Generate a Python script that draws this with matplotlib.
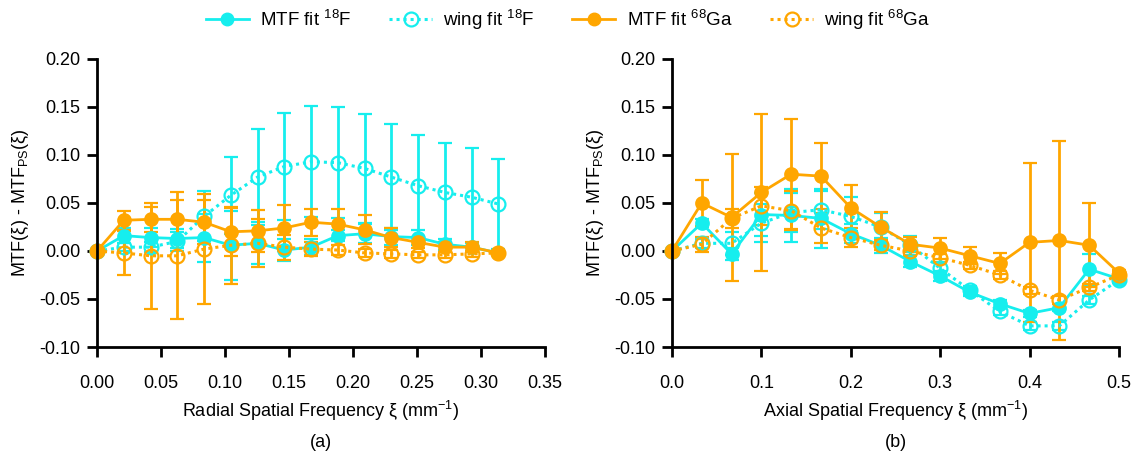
import matplotlib
matplotlib.use('Agg')
import matplotlib.pyplot as plt
from matplotlib.lines import Line2D

plt.rcParams['font.family'] = ['Liberation Sans', 'DejaVu Sans']
plt.rcParams['mathtext.fontset'] = 'custom'
plt.rcParams['mathtext.rm'] = 'Liberation Sans'
plt.rcParams['mathtext.default'] = 'regular'

CYAN = '#16eeee'
ORANGE = '#ffa600'

# radial (a)
x_rad = [0, 0.0209, 0.0418, 0.0627, 0.0836, 0.1045, 0.1254, 0.1463, 0.1672, 0.1881,
         0.209, 0.2299, 0.2508, 0.2717, 0.2926, 0.3135]
mtf_f_rad = [0, 0.016, 0.014, 0.013, 0.014, 0.006, 0.008, 0.001, 0.004, 0.016, 0.018, 0.015, 0.014, 0.007, 0.004, -0.002]
mtf_f_rad_err = [0, 0.008, 0.010, 0.010, 0.025, 0.036, 0.022, 0.011, 0.008, 0.006, 0.010, 0.009, 0.008, 0.006, 0.004, 0.002]
wing_f_rad = [0, 0.004, 0.004, 0.010, 0.036, 0.058, 0.077, 0.088, 0.093, 0.092, 0.086, 0.077, 0.068, 0.061, 0.056, 0.049]
wing_f_rad_err = [0, 0.004, 0.005, 0.010, 0.026, 0.040, 0.050, 0.056, 0.058, 0.058, 0.057, 0.055, 0.053, 0.052, 0.051, 0.047]
mtf_ga_rad = [0, 0.032, 0.033, 0.033, 0.030, 0.020, 0.021, 0.024, 0.030, 0.028, 0.022, 0.014, 0.009, 0.004, 0.004, -0.002]
mtf_ga_rad_err = [0, 0.010, 0.013, 0.020, 0.023, 0.025, 0.022, 0.024, 0.014, 0.016, 0.015, 0.010, 0.006, 0.005, 0.005, 0.002]
wing_ga_rad = [0, -0.002, -0.005, -0.005, 0.002, 0.006, 0.008, 0.004, 0.002, 0.001, -0.002, -0.003, -0.004, -0.004, -0.003, -0.002]
wing_ga_rad_err = [0, 0.023, 0.055, 0.066, 0.057, 0.040, 0.025, 0.013, 0.007, 0.005, 0.004, 0.004, 0.003, 0.003, 0.003, 0.002]

# axial (b)
x_ax = [0, 0.0333, 0.0667, 0.1, 0.1333, 0.1667, 0.2, 0.2333, 0.2667, 0.3, 0.3333, 0.3667,
        0.4, 0.4333, 0.4667, 0.5]
mtf_f_ax = [0, 0.029, -0.003, 0.038, 0.037, 0.034, 0.018, 0.006, -0.011, -0.026, -0.043, -0.055, -0.065, -0.059, -0.019, -0.029]
mtf_f_ax_err = [0, 0.004, 0.006, 0.022, 0.028, 0.031, 0.010, 0.008, 0.006, 0.005, 0.004, 0.004, 0.004, 0.004, 0.016, 0.003]
wing_f_ax = [0, 0.008, 0.008, 0.029, 0.040, 0.043, 0.036, 0.025, 0.006, -0.018, -0.041, -0.063, -0.078, -0.078, -0.051, -0.030]
wing_f_ax_err = [0, 0.005, 0.012, 0.020, 0.020, 0.020, 0.020, 0.015, 0.010, 0.006, 0.005, 0.004, 0.004, 0.004, 0.004, 0.003]
mtf_ga_ax = [0, 0.050, 0.035, 0.061, 0.080, 0.078, 0.045, 0.025, 0.007, 0.003, -0.005, -0.013, 0.009, 0.011, 0.006, -0.023]
mtf_ga_ax_err = [0, 0.024, 0.066, 0.082, 0.057, 0.034, 0.024, 0.016, 0.008, 0.011, 0.009, 0.011, 0.083, 0.104, 0.044, 0.003]
wing_ga_ax = [0, 0.007, 0.034, 0.047, 0.042, 0.024, 0.014, 0.006, 0.0, -0.007, -0.015, -0.025, -0.041, -0.051, -0.038, -0.025]
wing_ga_ax_err = [0, 0.008, 0.010, 0.020, 0.020, 0.016, 0.010, 0.005, 0.005, 0.004, 0.004, 0.004, 0.004, 0.004, 0.004, 0.003]

DOT = (0, (1, 1.3))


def draw(ax, x, series):
    for y, err, col, filled in series:
        ax.errorbar(x, y, yerr=err, color=col, ecolor=col, lw=2 if filled else 2.2,
                    ls='-' if filled else DOT, marker='o', ms=9 if filled else 10,
                    mfc=col if filled else 'none', mec=col, mew=1.6,
                    elinewidth=2, capsize=5, capthick=2, clip_on=False)


fig = plt.figure(figsize=(11.36, 4.57), dpi=100)
ax1 = fig.add_axes([0.0854, 0.2407, 0.3944, 0.6302])
ax2 = fig.add_axes([0.5915, 0.2407, 0.3935, 0.6302])

draw(ax1, x_rad, [(mtf_f_rad, mtf_f_rad_err, CYAN, True),
                  (wing_f_rad, wing_f_rad_err, CYAN, False),
                  (mtf_ga_rad, mtf_ga_rad_err, ORANGE, True),
                  (wing_ga_rad, wing_ga_rad_err, ORANGE, False)])
draw(ax2, x_ax, [(mtf_f_ax, mtf_f_ax_err, CYAN, True),
                 (wing_f_ax, wing_f_ax_err, CYAN, False),
                 (mtf_ga_ax, mtf_ga_ax_err, ORANGE, True),
                 (wing_ga_ax, wing_ga_ax_err, ORANGE, False)])

for ax, xmax, xt, fmt, xl, tag in [
        (ax1, 0.35, [0, 0.05, 0.10, 0.15, 0.20, 0.25, 0.30, 0.35], '{:.2f}',
         'Radial Spatial Frequency ξ (mm$^{-1}$)', '(a)'),
        (ax2, 0.5, [0, 0.1, 0.2, 0.3, 0.4, 0.5], '{:.1f}',
         'Axial Spatial Frequency ξ (mm$^{-1}$)', '(b)')]:
    ax.set_xlim(0, xmax)
    ax.set_ylim(-0.10, 0.20)
    ax.set_xticks(xt)
    ax.set_xticklabels([fmt.format(v) for v in xt])
    yt = [-0.10, -0.05, 0.0, 0.05, 0.10, 0.15, 0.20]
    ax.set_yticks(yt)
    ax.set_yticklabels(['{:.2f}'.format(v) for v in yt])
    for s in ['top', 'right']:
        ax.spines[s].set_visible(False)
    for s in ['left', 'bottom']:
        ax.spines[s].set_linewidth(2)
    ax.tick_params(width=2, length=7, labelsize=13, pad=5)
    ax.tick_params(axis='x', pad=13)
    ax.set_xlabel(xl, fontsize=13, labelpad=5)
    ax.set_ylabel('MTF(ξ) - MTF$_{PS}$(ξ)', fontsize=13, labelpad=6)
    ax.text(0.5, -0.33, tag, transform=ax.transAxes, ha='center', va='center', fontsize=13)

handles = [
    Line2D([], [], color=CYAN, lw=2, marker='o', ms=9, mfc=CYAN, mec=CYAN),
    Line2D([], [], color=CYAN, lw=2.2, ls=DOT, marker='o', ms=10, mfc='none', mec=CYAN, mew=1.6),
    Line2D([], [], color=ORANGE, lw=2, marker='o', ms=9, mfc=ORANGE, mec=ORANGE),
    Line2D([], [], color=ORANGE, lw=2.2, ls=DOT, marker='o', ms=10, mfc='none', mec=ORANGE, mew=1.6),
]
labels = ['MTF fit $^{18}$F', 'wing fit $^{18}$F', 'MTF fit $^{68}$Ga', 'wing fit $^{68}$Ga']
fig.legend(handles, labels, loc='upper center', bbox_to_anchor=(0.5, 1.02), ncol=4,
           frameon=False, fontsize=13.5, handlelength=2.3, columnspacing=2.0, handletextpad=0.6)

fig.savefig('out.png', dpi=100)
